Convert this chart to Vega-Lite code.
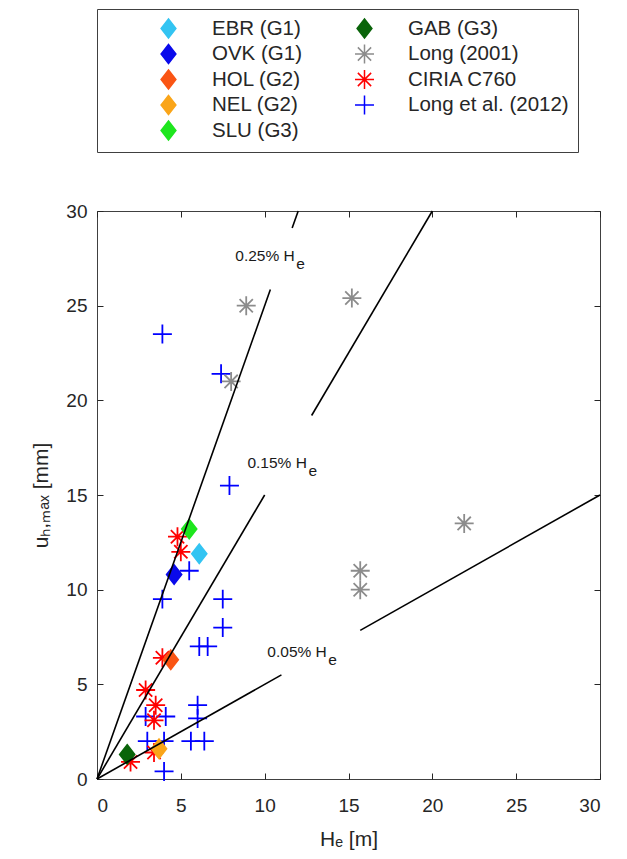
{
  "$schema": "https://vega.github.io/schema/vega-lite/v6.json",
  "width": 503,
  "height": 568,
  "autosize": {"type": "none"},
  "padding": {"left": 97, "top": 211, "right": 27, "bottom": 80},
  "background": "white",
  "datasets": {
    "pts": [
      {"series": "Long et al. (2012)", "H": 3.9, "u": 23.5},
      {"series": "Long et al. (2012)", "H": 7.4, "u": 21.4},
      {"series": "Long et al. (2012)", "H": 7.9, "u": 15.5},
      {"series": "Long et al. (2012)", "H": 5.5, "u": 11.0},
      {"series": "Long et al. (2012)", "H": 3.9, "u": 9.5},
      {"series": "Long et al. (2012)", "H": 7.5, "u": 9.5},
      {"series": "Long et al. (2012)", "H": 7.5, "u": 8.0},
      {"series": "Long et al. (2012)", "H": 6.1, "u": 7.0},
      {"series": "Long et al. (2012)", "H": 6.6, "u": 7.0},
      {"series": "Long et al. (2012)", "H": 2.9, "u": 3.3},
      {"series": "Long et al. (2012)", "H": 4.1, "u": 3.3},
      {"series": "Long et al. (2012)", "H": 6.0, "u": 3.9},
      {"series": "Long et al. (2012)", "H": 6.0, "u": 3.2},
      {"series": "Long et al. (2012)", "H": 3.0, "u": 2.0},
      {"series": "Long et al. (2012)", "H": 5.6, "u": 2.0},
      {"series": "Long et al. (2012)", "H": 6.4, "u": 2.0},
      {"series": "Long et al. (2012)", "H": 4.0, "u": 2.0},
      {"series": "Long et al. (2012)", "H": 4.0, "u": 0.4},
      {"series": "Long (2001)", "H": 8.9, "u": 25.0},
      {"series": "Long (2001)", "H": 8.0, "u": 21.0},
      {"series": "Long (2001)", "H": 15.2, "u": 25.4},
      {"series": "Long (2001)", "H": 21.9, "u": 13.5},
      {"series": "Long (2001)", "H": 15.7, "u": 11.0},
      {"series": "Long (2001)", "H": 15.7, "u": 10.0},
      {"series": "CIRIA C760", "H": 4.8, "u": 12.8},
      {"series": "CIRIA C760", "H": 5.0, "u": 12.0},
      {"series": "CIRIA C760", "H": 3.9, "u": 6.4},
      {"series": "CIRIA C760", "H": 2.9, "u": 4.7},
      {"series": "CIRIA C760", "H": 3.5, "u": 3.9},
      {"series": "CIRIA C760", "H": 3.4, "u": 3.1},
      {"series": "CIRIA C760", "H": 2.0, "u": 0.9},
      {"series": "CIRIA C760", "H": 3.4, "u": 1.4},
      {"series": "EBR (G1)", "H": 6.1, "u": 11.9},
      {"series": "OVK (G1)", "H": 4.6, "u": 10.8},
      {"series": "HOL (G2)", "H": 4.4, "u": 6.3},
      {"series": "NEL (G2)", "H": 3.7, "u": 1.6},
      {"series": "SLU (G3)", "H": 5.5, "u": 13.2},
      {"series": "GAB (G3)", "H": 1.8, "u": 1.3}
    ],
    "lines": [
      {"seg": "a25", "H": 0, "u": 0},
      {"seg": "a25", "H": 10.34, "u": 25.85},
      {"seg": "b25", "H": 11.64, "u": 29.1},
      {"seg": "b25", "H": 12.0, "u": 30.0},
      {"seg": "a15", "H": 0, "u": 0},
      {"seg": "a15", "H": 10.0, "u": 15.0},
      {"seg": "b15", "H": 12.8, "u": 19.2},
      {"seg": "b15", "H": 20.0, "u": 30.0},
      {"seg": "a05", "H": 0, "u": 0},
      {"seg": "a05", "H": 11.0, "u": 5.5},
      {"seg": "b05", "H": 15.7, "u": 7.85},
      {"seg": "b05", "H": 30.0, "u": 15.0}
    ],
    "labels": [
      {"label": "0.25% H", "H": 8.25, "u": 27.6},
      {"label": "0.15% H", "H": 8.97, "u": 16.7},
      {"label": "0.05% H", "H": 10.16, "u": 6.7}
    ]
  },
  "layer": [
    {
      "data": {"name": "pts"},
      "mark": {"type": "point", "filled": true, "opacity": 1, "strokeWidth": 1.8},
      "encoding": {
        "x": {
          "field": "H", "type": "quantitative",
          "scale": {"domain": [0, 30], "nice": false, "zero": false},
          "axis": {"title": "Hₑ [m]", "values": [0, 5, 10, 15, 20, 25, 30], "orient": "bottom"}
        },
        "y": {
          "field": "u", "type": "quantitative",
          "scale": {"domain": [0, 30], "nice": false, "zero": false},
          "axis": {"title": "uₕ,ₘₐₓ [mm]", "values": [0, 5, 10, 15, 20, 25, 30], "orient": "left"}
        },
        "color": {
          "field": "series", "type": "nominal",
          "scale": {
            "domain": ["EBR (G1)", "OVK (G1)", "HOL (G2)", "NEL (G2)", "SLU (G3)", "GAB (G3)", "Long (2001)", "CIRIA C760", "Long et al. (2012)"],
            "range": ["#33C4F2", "#0A0AEB", "#FA5514", "#FAA519", "#1EE61E", "#0A640A", "#8C8C8C", "#FF0000", "#0000FF"]
          },
          "legend": {
            "orient": "none",
            "legendX": 0,
            "legendY": -202,
            "columns": 2,
            "title": null,
            "strokeColor": "#404040",
            "fillColor": "white",
            "padding": 9,
            "symbolOffset": 52,
            "labelOffset": 33,
            "columnPadding": 0,
            "rowPadding": 0.5,
            "labelFontSize": 20.5,
            "labelColor": "#262626",
            "labelFont": "Liberation Sans",
            "labelLimit": 300,
            "encode": {
              "symbols": {
                "update": {
                  "stroke": {"scale": "stroke", "field": "value"},
                  "size": {"scale": "size", "field": "value"},
                  "strokeWidth": {"value": 1.8},
                  "opacity": {"value": 1}
                }
              }
            }
          }
        },
        "shape": {
          "field": "series", "type": "nominal",
          "scale": {
            "domain": ["EBR (G1)", "OVK (G1)", "HOL (G2)", "NEL (G2)", "SLU (G3)", "GAB (G3)", "Long (2001)", "CIRIA C760", "Long et al. (2012)"],
            "range": [
              "M0,-1L0.78,0L0,1L-0.78,0Z",
              "M0,-1L0.78,0L0,1L-0.78,0Z",
              "M0,-1L0.78,0L0,1L-0.78,0Z",
              "M0,-1L0.78,0L0,1L-0.78,0Z",
              "M0,-1L0.78,0L0,1L-0.78,0Z",
              "M0,-1L0.78,0L0,1L-0.78,0Z",
              "M-1,0L1,0M0,-1L0,1M-0.7,-0.7L0.7,0.7M-0.7,0.7L0.7,-0.7",
              "M-1,0L1,0M0,-1L0,1M-0.7,-0.7L0.7,0.7M-0.7,0.7L0.7,-0.7",
              "M-1,0L1,0M0,-1L0,1"
            ]
          }
        },
        "stroke": {
          "field": "series", "type": "nominal",
          "scale": {
            "domain": ["EBR (G1)", "OVK (G1)", "HOL (G2)", "NEL (G2)", "SLU (G3)", "GAB (G3)", "Long (2001)", "CIRIA C760", "Long et al. (2012)"],
            "range": ["#33C4F2", "#0A0AEB", "#FA5514", "#FAA519", "#1EE61E", "#0A640A", "#8C8C8C", "#FF0000", "#0000FF"]
          },
          "legend": null
        },
        "size": {
          "field": "series", "type": "nominal",
          "scale": {
            "domain": ["EBR (G1)", "OVK (G1)", "HOL (G2)", "NEL (G2)", "SLU (G3)", "GAB (G3)", "Long (2001)", "CIRIA C760", "Long et al. (2012)"],
            "range": [360, 360, 360, 360, 360, 360, 220, 220, 180]
          },
          "legend": null
        }
      }
    },
    {
      "data": {"name": "lines"},
      "mark": {"type": "line", "color": "black", "strokeWidth": 1.6},
      "encoding": {
        "x": {"field": "H", "type": "quantitative", "axis": {"orient": "top", "labels": false, "title": null, "values": [0, 5, 10, 15, 20, 25, 30]}},
        "y": {"field": "u", "type": "quantitative", "axis": {"orient": "right", "labels": false, "title": null, "values": [0, 5, 10, 15, 20, 25, 30]}},
        "detail": {"field": "seg", "type": "nominal"}
      }
    },
    {
      "data": {"name": "labels"},
      "mark": {"type": "text", "align": "left", "baseline": "middle", "fontSize": 15.5, "color": "#1a1a1a", "font": "Liberation Sans"},
      "encoding": {
        "x": {"field": "H", "type": "quantitative", "axis": null},
        "y": {"field": "u", "type": "quantitative", "axis": null},
        "text": {"field": "label"}
      }
    },
    {
      "data": {"name": "labels"},
      "mark": {"type": "text", "align": "left", "baseline": "middle", "fontSize": 15.5, "dx": 61, "dy": 8, "color": "#1a1a1a", "font": "Liberation Sans"},
      "encoding": {
        "x": {"field": "H", "type": "quantitative", "axis": null},
        "y": {"field": "u", "type": "quantitative", "axis": null},
        "text": {"value": "e"}
      }
    }
  ],
  "resolve": {"axis": {"x": "independent", "y": "independent"}},
  "config": {
    "font": "Liberation Sans",
    "view": {"stroke": "#404040", "strokeWidth": 1},
    "axis": {
      "grid": false,
      "domain": false,
      "offset": -6,
      "tickColor": "#262626",
      "tickWidth": 1,
      "tickSize": 6,
      "labelColor": "#262626",
      "labelFontSize": 19,
      "labelFont": "Liberation Sans",
      "titleFont": "Liberation Sans",
      "titleFontSize": 21,
      "titleFontWeight": "normal",
      "titleColor": "#262626"
    },
    "axisBottom": {"labelPadding": 17, "titlePadding": 13},
    "axisLeft": {"labelPadding": 10, "titlePadding": 14}
  }
}
